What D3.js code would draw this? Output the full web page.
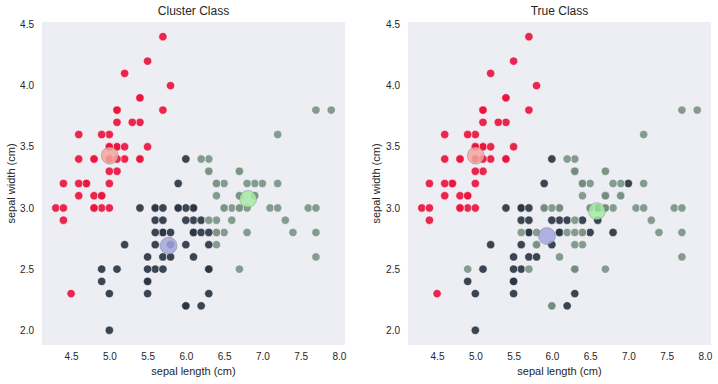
<!DOCTYPE html>
<html><head><meta charset="utf-8">
<script src="https://cdn.jsdelivr.net/npm/d3@7"></script>
<style>body{margin:0;background:#fff}svg text{font-family:"Liberation Sans",Arial,sans-serif;fill:#262626}</style>
</head><body><svg id="c" width="718" height="384"></svg>
<script>
const sepalLength=[5.1,4.9,4.7,4.6,5.0,5.4,4.6,5.0,4.4,4.9,5.4,4.8,4.8,4.3,5.8,5.7,5.4,5.1,5.7,5.1,5.4,5.1,4.6,5.1,4.8,5.0,5.0,5.2,5.2,4.7,4.8,5.4,5.2,5.5,4.9,5.0,5.5,4.9,4.4,5.1,5.0,4.5,4.4,5.0,5.1,4.8,5.1,4.6,5.3,5.0,
7.0,6.4,6.9,5.5,6.5,5.7,6.3,4.9,6.6,5.2,5.0,5.9,6.0,6.1,5.6,6.7,5.6,5.8,6.2,5.6,5.9,6.1,6.3,6.1,6.4,6.6,6.8,6.7,6.0,5.7,5.5,5.5,5.8,6.0,5.4,6.0,6.7,6.3,5.6,5.5,5.5,6.1,5.8,5.0,5.6,5.7,5.7,6.2,5.1,5.7,
6.3,5.8,7.1,6.3,6.5,7.6,4.9,7.3,6.7,7.2,6.5,6.4,6.8,5.7,5.8,6.4,6.5,7.7,7.7,6.0,6.9,5.6,7.7,6.3,6.7,7.2,6.2,6.1,6.4,7.2,7.4,7.9,6.4,6.3,6.1,7.7,6.3,6.4,6.0,6.9,6.7,6.9,5.8,6.8,6.7,6.7,6.3,6.5,6.2,5.9];
const sepalWidth=[3.5,3.0,3.2,3.1,3.6,3.9,3.4,3.4,2.9,3.1,3.7,3.4,3.0,3.0,4.0,4.4,3.9,3.5,3.8,3.8,3.4,3.7,3.6,3.3,3.4,3.0,3.4,3.5,3.4,3.2,3.1,3.4,4.1,4.2,3.1,3.2,3.5,3.6,3.0,3.4,3.5,2.3,3.2,3.5,3.8,3.0,3.8,3.2,3.7,3.3,
3.2,3.2,3.1,2.3,2.8,2.8,3.3,2.4,2.9,2.7,2.0,3.0,2.2,2.9,2.9,3.1,3.0,2.7,2.2,2.5,3.2,2.8,2.5,2.8,2.9,3.0,2.8,3.0,2.9,2.6,2.4,2.4,2.7,2.7,3.0,3.4,3.1,2.3,3.0,2.5,2.6,3.0,2.6,2.3,2.7,3.0,2.9,2.9,2.5,2.8,
3.3,2.7,3.0,2.9,3.0,3.0,2.5,2.9,2.5,3.6,3.2,2.7,3.0,2.5,2.8,3.2,3.0,3.8,2.6,2.2,3.2,2.8,2.8,2.7,3.3,3.2,2.8,3.0,2.8,3.0,2.8,3.8,2.8,2.8,2.6,3.0,3.4,3.1,3.0,3.1,3.1,3.1,2.7,3.2,3.3,3.0,2.5,3.0,3.4,3.0];
const trueClass=[0,0,0,0,0,0,0,0,0,0,0,0,0,0,0,0,0,0,0,0,0,0,0,0,0,0,0,0,0,0,0,0,0,0,0,0,0,0,0,0,0,0,0,0,0,0,0,0,0,0,
1,1,1,1,1,1,1,1,1,1,1,1,1,1,1,1,1,1,1,1,1,1,1,1,1,1,1,1,1,1,1,1,1,1,1,1,1,1,1,1,1,1,1,1,1,1,1,1,1,1,
2,2,2,2,2,2,2,2,2,2,2,2,2,2,2,2,2,2,2,2,2,2,2,2,2,2,2,2,2,2,2,2,2,2,2,2,2,2,2,2,2,2,2,2,2,2,2,2,2,2];
const clusterClass=[0,0,0,0,0,0,0,0,0,0,0,0,0,0,0,0,0,0,0,0,0,0,0,0,0,0,0,0,0,0,0,0,0,0,0,0,0,0,0,0,0,0,0,0,0,0,0,0,0,0,
2,2,2,1,2,1,2,1,2,1,1,1,1,1,1,2,1,1,1,1,1,1,1,1,2,2,2,2,1,1,1,1,1,1,1,1,2,1,1,1,1,1,1,1,1,1,1,1,1,1,
2,1,2,2,2,2,1,2,2,2,2,2,2,1,1,2,2,2,2,1,2,1,2,1,2,2,1,1,2,2,2,2,2,1,1,2,2,2,1,2,2,2,1,2,2,2,1,2,2,1];
const clusterCentersX=[5.006,5.774,6.813];
const clusterCentersY=[3.428,2.692,3.074];
const trueCentersX=[5.006,5.936,6.588];
const trueCentersY=[3.428,2.770,2.974];
const xTicks=[4.5,5.0,5.5,6.0,6.5,7.0,7.5,8.0];
const yTicks=[2.0,2.5,3.0,3.5,4.0,4.5];
const titles=["Cluster Class","True Class"];
const pointColors=["#e8163f","#2b3544","#7b9486"];
const centerColors=["#f2a7a0","#a3a6dd","#a6eaa6"];

(function(){
const svg=d3.select("#c");
const panels=[
 {left:42,right:345,labels:clusterClass,cx:clusterCentersX,cy:clusterCentersY,title:titles[0],ylx:11},
 {left:408,right:711,labels:trueClass,cx:trueCentersX,cy:trueCentersY,title:titles[1],ylx:376}
];
const pTop=22,pBottom=345;
panels.forEach(p=>{
  const x=d3.scaleLinear().domain([4.12,8.08]).range([p.left,p.right]);
  const y=d3.scaleLinear().domain([1.88,4.52]).range([pBottom,pTop]);
  const g=svg.append("g");
  g.append("rect").attr("x",p.left).attr("y",pTop).attr("width",p.right-p.left).attr("height",pBottom-pTop).attr("fill","#eceef4");
  const xa=g.append("g").attr("transform",`translate(0,${pBottom})`).call(d3.axisBottom(x).tickValues(xTicks).tickFormat(d3.format(".1f")).tickSize(0).tickPadding(8));
  const ya=g.append("g").attr("transform",`translate(${p.left},0)`).call(d3.axisLeft(y).tickValues(yTicks).tickFormat(d3.format(".1f")).tickSize(0).tickPadding(8));
  [xa,ya].forEach(a=>{a.select(".domain").remove();a.selectAll("text").attr("font-size",10).attr("fill","#262626");});
  g.append("text").attr("x",(p.left+p.right)/2).attr("y",15).attr("text-anchor","middle").attr("font-size",12).text(p.title);
  g.append("text").attr("x",(p.left+p.right)/2).attr("y",375).attr("text-anchor","middle").attr("font-size",11).text("sepal length (cm)");
  g.append("text").attr("transform",`translate(${p.ylx},${(pTop+pBottom)/2}) rotate(-90)`).attr("dy","0.35em").attr("text-anchor","middle").attr("font-size",11).text("sepal width (cm)");
  g.append("g").selectAll("circle").data(d3.range(sepalLength.length)).join("circle")
    .attr("cx",i=>x(sepalLength[i])).attr("cy",i=>y(sepalWidth[i])).attr("r",4.2)
    .attr("fill",i=>pointColors[p.labels[i]]).attr("stroke","#ffffff").attr("stroke-width",0.6).attr("fill-opacity",0.92);
  g.append("g").selectAll("circle").data([0,1,2]).join("circle")
    .attr("cx",k=>x(p.cx[k])).attr("cy",k=>y(p.cy[k])).attr("r",8.5)
    .attr("fill",k=>centerColors[k]).attr("fill-opacity",0.85).attr("stroke","#555").attr("stroke-opacity",0.5).attr("stroke-width",0.6);
});
})();
</script></body></html>
